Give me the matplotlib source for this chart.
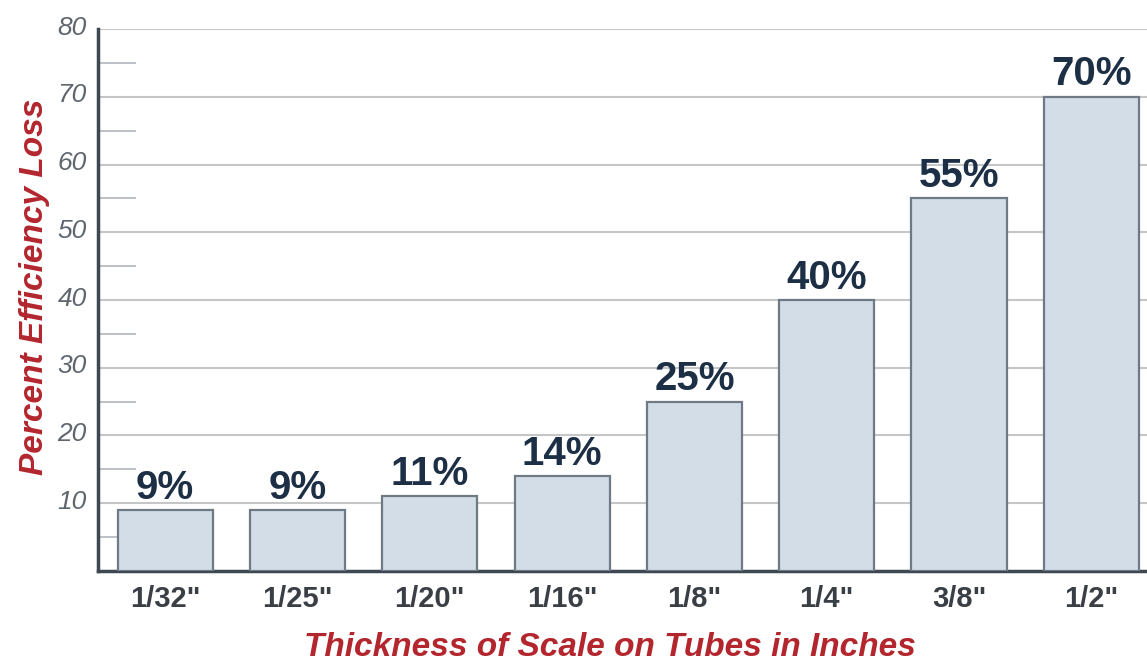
import matplotlib.pyplot as plt
import matplotlib.transforms as mtransforms
from matplotlib.ticker import FixedLocator

# scale thickness vs. efficiency loss
thickness = ['1/32"', '1/25"', '1/20"', '1/16"', '1/8"', '1/4"', '3/8"', '1/2"']
loss_pct = [9, 9, 11, 14, 25, 40, 55, 70]
y_ticks = [10, 20, 30, 40, 50, 60, 70, 80]
y_minor = [5, 15, 25, 35, 45, 55, 65, 75]

RED = '#b3262e'
NAVY = '#1d2f45'
BAR_FILL = '#d2dde7'
BAR_EDGE = '#6f7a84'
SPINE = '#3e4852'


def main():
    plt.rcParams['font.family'] = ['Liberation Sans', 'DejaVu Sans']
    fig = plt.figure(figsize=(11.47, 6.63), dpi=100)
    ax = fig.add_axes([0.0854, 0.139, 1 - 0.0854, 0.817])

    x = list(range(len(thickness)))
    bars = ax.bar(x, loss_pct, width=0.72, color=BAR_FILL, edgecolor=BAR_EDGE,
                  linewidth=1.6, zorder=3)

    for b, v in zip(bars, loss_pct):
        ax.text(b.get_x() + b.get_width() / 2, v + 0.5, f'{v}%', ha='center', va='bottom',
                fontsize=29, fontweight='bold', color=NAVY, zorder=4)

    ax.set_xlim(-0.508, 7.42)
    ax.set_ylim(0, 80)

    ax.yaxis.set_major_locator(FixedLocator(y_ticks))
    ax.yaxis.set_minor_locator(FixedLocator(y_minor))
    ax.grid(axis='y', which='major', color='#c4c6c8', linewidth=1.5, zorder=0)

    ax.tick_params(axis='y', which='major', length=0, pad=8, labelsize=19,
                   labelcolor='#5f666e')
    ax.tick_params(axis='y', which='minor', direction='in', length=27, width=1.3,
                   color='#b8bcc0')
    # lift the y labels a few pixels above their gridlines
    shift = mtransforms.ScaledTranslation(0, 4 / 100, fig.dpi_scale_trans)
    for lbl in ax.get_yticklabels():
        lbl.set_fontstyle('italic')
        lbl.set_transform(lbl.get_transform() + shift)

    ax.set_xticks(x)
    ax.set_xticklabels(thickness, fontsize=21, fontweight='bold', color='#3a3f46')
    ax.tick_params(axis='x', length=0, pad=10)

    for side in ['top', 'right']:
        ax.spines[side].set_visible(False)
    for side in ['left', 'bottom']:
        ax.spines[side].set_color(SPINE)
        ax.spines[side].set_linewidth(2.5)

    ax.set_ylabel('Percent Efficiency Loss', fontsize=24, fontweight='bold',
                  fontstyle='italic', color=RED)
    ax.yaxis.set_label_coords(-0.046, 0.524)
    fig.text(0.532, 0.01, 'Thickness of Scale on Tubes in Inches', ha='center',
             va='baseline', fontsize=24, fontweight='bold', fontstyle='italic', color=RED)

    fig.savefig('out.png', dpi=100)


if __name__ == "__main__":
    main()
